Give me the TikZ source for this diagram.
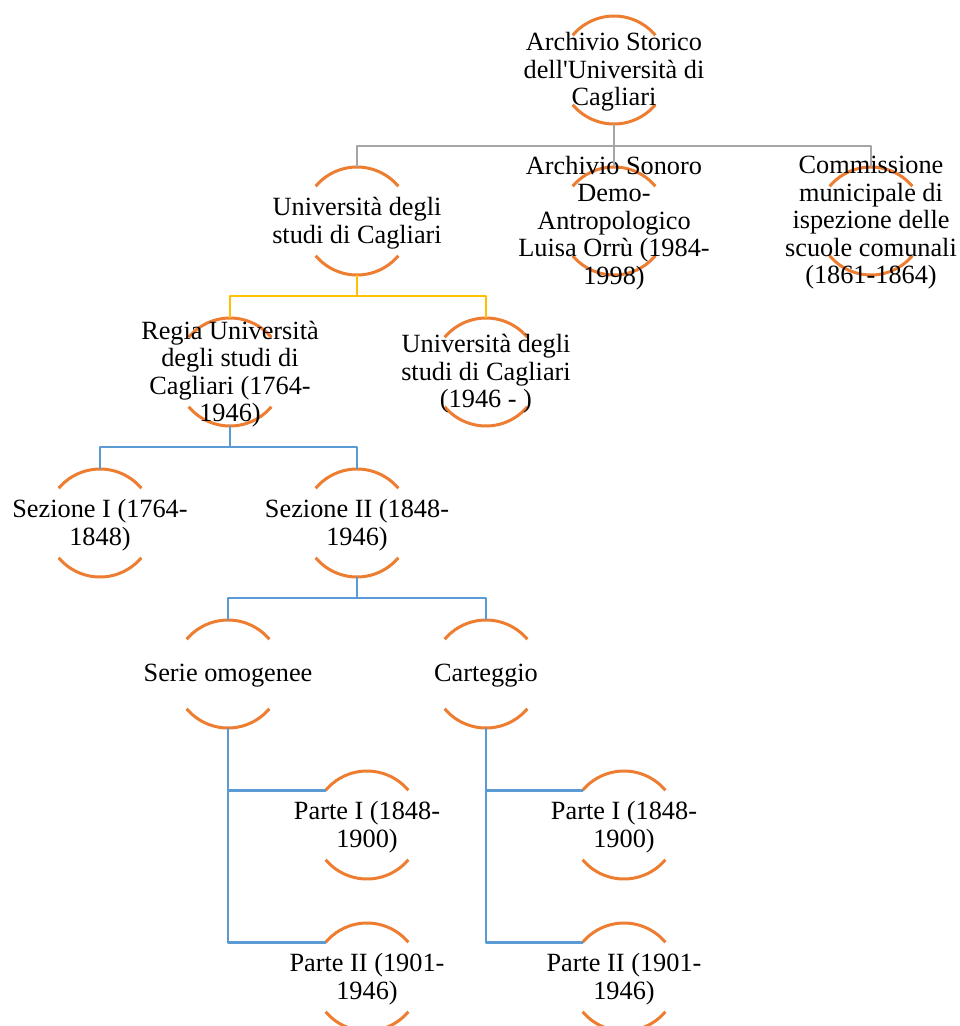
\documentclass[tikz,border=0pt]{standalone}
\usepackage{fontspec}
\setmainfont{Liberation Serif}
\definecolor{ringorange}{HTML}{ED7D31}
\definecolor{linkgray}{HTML}{A5A5A5}
\definecolor{linkyellow}{HTML}{FFC000}
\definecolor{linkblue}{HTML}{5B9BD5}
\tikzset{
  ring/.style={circle, minimum size=108pt, inner sep=0pt, outer sep=0pt},
  txt/.style={align=center, inner sep=0pt, yshift=-2pt, font=\fontsize{26.3pt}{27.5pt}\selectfont},
  arcline/.style={draw=ringorange, line width=3pt},
  link/.style={line width=2.4pt}
}
% a ring: name, position, text
\newcommand\ringnode[3]{%
  \node[ring] (#1) at (#2) {};
  \draw[arcline] (#1.40) arc[start angle=40, end angle=140, radius=54pt];
  \draw[arcline] (#1.220) arc[start angle=220, end angle=320, radius=54pt];
  \node[txt] (#1-t) at (#1.center) {#3};
}
\begin{document}
\begin{tikzpicture}[x=1pt, y=1pt, line join=round]
 \useasboundingbox (0,0) rectangle (960,-1026);
 % ring centres
 \coordinate (root) at (614,-70);
 \coordinate (uni) at (357,-221);
 \coordinate (sono) at (614,-221);
 \coordinate (comm) at (871,-221);
 \coordinate (regia) at (230,-372);
 \coordinate (uninew) at (486,-372);
 \coordinate (sez1) at (100,-523);
 \coordinate (sez2) at (357,-523);
 \coordinate (serie) at (228,-674);
 \coordinate (cart) at (486,-674);
 \coordinate (sp1) at (367,-825);
 \coordinate (sp2) at (367,-977);
 \coordinate (cp1) at (624,-825);
 \coordinate (cp2) at (624,-977);

 \ringnode{nroot}{root}{Archivio Storico\\dell\textquotesingle Università di\\Cagliari}
 \ringnode{nuni}{uni}{Università degli\\studi di Cagliari}
 \ringnode{nsono}{sono}{Archivio Sonoro\\Demo-\\Antropologico\\Luisa Orrù (1984-\\1998)}
 \ringnode{ncomm}{comm}{Commissione\\municipale di\\ispezione delle\\scuole comunali\\(1861-1864)}
 \ringnode{nregia}{regia}{Regia Università\\degli studi di\\Cagliari (1764-\\1946)}
 \ringnode{nuninew}{uninew}{Università degli\\studi di Cagliari\\(1946 - )}
 \ringnode{nsez1}{sez1}{Sezione I (1764-\\1848)}
 \ringnode{nsez2}{sez2}{Sezione II (1848-\\1946)}
 \ringnode{nserie}{serie}{Serie omogenee}
 \ringnode{ncart}{cart}{Carteggio}
 \ringnode{nsp1}{sp1}{Parte I (1848-\\1900)}
 \ringnode{nsp2}{sp2}{Parte II (1901-\\1946)}
 \ringnode{ncp1}{cp1}{Parte I (1848-\\1900)}
 \ringnode{ncp2}{cp2}{Parte II (1901-\\1946)}

 % connectors
 \draw[link, linkgray] (nroot.south) -- ++(0,-22) -| (nuni.north);
 \draw[link, linkgray] (nroot.south) -- (nsono.north);
 \draw[link, linkgray] (nroot.south) -- ++(0,-22) -| (ncomm.north);
 \draw[link, linkyellow] (nuni.south) -- ++(0,-21) -| (nregia.north);
 \draw[link, linkyellow] (nuni.south) -- ++(0,-21) -| (nuninew.north);
 \draw[link, linkblue] (nregia.south) -- ++(0,-21) -| (nsez1.north);
 \draw[link, linkblue] (nregia.south) -- ++(0,-21) -| (nsez2.north);
 \draw[link, linkblue] (nsez2.south) -- ++(0,-21) -| (nserie.north);
 \draw[link, linkblue] (nsez2.south) -- ++(0,-21) -| (ncart.north);
 \draw[link, linkblue] (nserie.south) |- (nsp1.140);
 \draw[link, linkblue] (nserie.south) |- (nsp2.140);
 \draw[link, linkblue] (ncart.south) |- (ncp1.140);
 \draw[link, linkblue] (ncart.south) |- (ncp2.140);
\end{tikzpicture}
\end{document}
